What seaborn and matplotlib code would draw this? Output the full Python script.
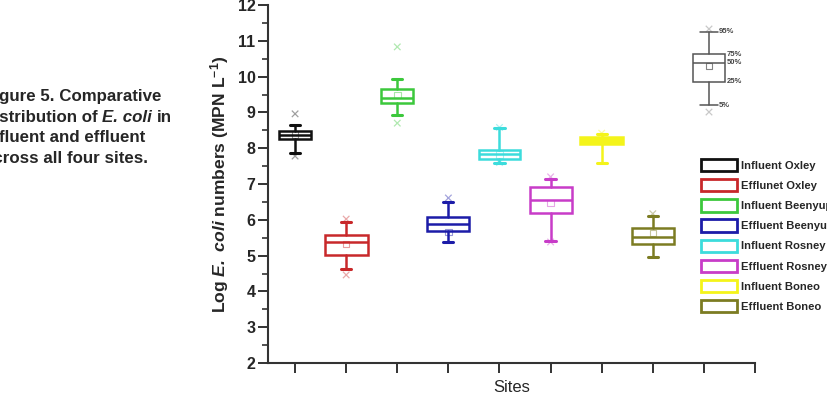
import numpy as np
import pandas as pd
import matplotlib.pyplot as plt
import matplotlib.patches as mpatches
import seaborn as sns

# --- data (log MPN per litre) ---
sites = ['Influent Oxley', 'Efflunet Oxley', 'Influent Beenyup', 'Effluent Beenyup',
         'Influent Rosney', 'Effluent Rosney', 'Influent Boneo', 'Effluent Boneo']
colors = ['#111111', '#c8282a', '#3cc83c', '#1c1ca8', '#3cdcdc', '#c83cc8', '#f4f41a', '#7c7c22']
q1 = [8.27, 5.02, 9.26, 5.69, 7.70, 6.19, 8.11, 5.32]
med = [8.37, 5.38, 9.40, 5.88, 7.84, 6.55, 8.22, 5.52]
q3 = [8.48, 5.58, 9.65, 6.08, 7.95, 6.92, 8.30, 5.77]
whis_lo = [7.87, 4.63, 8.93, 5.38, 7.59, 5.41, 7.59, 4.96]
whis_hi = [8.65, 5.94, 9.93, 6.49, 8.56, 7.14, 8.40, 6.10]
means = [8.38, 5.32, 9.49, 5.66, 7.83, 6.47, 8.20, 5.63]
out_hi = [8.96, 6.02, 10.83, 6.61, 8.58, 7.20, 8.42, 6.17]
out_lo = [7.78, 4.46, 8.70, np.nan, 7.60, 5.38, np.nan, np.nan]

# key box (percentile guide)
key_stats = dict(q1=9.85, med=10.38, q3=10.63, whislo=9.20, whishi=11.25, mean=10.30)
key_out = [11.33, 9.01]
key_labels = ['95%', '75%', '50%', '25%', '5%']

caption = ['Figure 5. Comparative', 'distribution of', 'E. coli', 'in',
           'influent and effluent', 'across all four sites.']

sns.set_style("ticks")
plt.rcParams['font.family'] = ['Liberation Sans', 'DejaVu Sans']
plt.rcParams['mathtext.fontset'] = 'custom'
plt.rcParams['mathtext.rm'] = 'Liberation Sans:bold'
plt.rcParams['mathtext.bf'] = 'Liberation Sans:bold'
plt.rcParams['mathtext.it'] = 'Liberation Sans:bold:italic'
plt.rcParams['mathtext.bfit'] = 'Liberation Sans:bold:italic'

fig = plt.figure(figsize=(8.27, 3.98), dpi=100)
ax = fig.add_axes([268 / 827, 1 - 363 / 398, 487 / 827, 358 / 398])

positions = list(range(1, 9))
widths = [0.63, 0.84, 0.63, 0.82, 0.82, 0.82, 0.84, 0.82]

for i in range(len(sites)):
    st = [dict(q1=q1[i], med=med[i], q3=q3[i], whislo=whis_lo[i], whishi=whis_hi[i],
               mean=means[i], fliers=[])]
    c = colors[i]
    fill = c if sites[i] == 'Influent Boneo' else 'none'
    ax.bxp(st, positions=[positions[i]], widths=widths[i], patch_artist=True,
           showfliers=False, capwidths=0.2,
           boxprops=dict(facecolor=fill, edgecolor=c, linewidth=1.8),
           medianprops=dict(color=c, linewidth=1.8),
           whiskerprops=dict(color=c, linewidth=1.8),
           capprops=dict(color=c, linewidth=2.2))

# key box
kpos = 9.1
ax.bxp([dict(key_stats, fliers=[])], positions=[kpos], widths=0.63, patch_artist=True,
       showfliers=False, capwidths=0.35,
       boxprops=dict(facecolor='none', edgecolor='#555555', linewidth=1.1),
       medianprops=dict(color='#555555', linewidth=1.1),
       whiskerprops=dict(color='#555555', linewidth=1.1),
       capprops=dict(color='#555555', linewidth=1.1))
key_y = [key_stats['whishi'], key_stats['q3'], key_stats['med'], key_stats['q1'], key_stats['whislo']]
key_x = [kpos + 0.2, kpos + 0.34, kpos + 0.34, kpos + 0.34, kpos + 0.2]
for lab, yy, xx in zip(key_labels, key_y, key_x):
    ax.text(xx, yy, lab, fontsize=5.5, fontweight='bold', color='#444444', va='center', ha='left')

# outliers and means
pts = pd.DataFrame({
    'x': positions * 2 + [kpos, kpos],
    'y': out_hi + out_lo + key_out,
    'site': sites * 2 + ['key', 'key'],
}).dropna()
pal = dict(zip(sites, colors))
pal['key'] = '#777777'
sns.scatterplot(data=pts, x='x', y='y', hue='site', palette=pal, marker='x', s=22,
                linewidth=0.9, alpha=0.4, legend=False, ax=ax)
mdf = pd.DataFrame({'x': positions + [kpos], 'y': means + [key_stats['mean']],
                    'site': sites + ['key']})
for _, r in mdf.iterrows():
    sns.scatterplot(x=[r['x']], y=[r['y']], marker='s', s=22, facecolor='none',
                    edgecolor=pal[r['site']], linewidth=0.8,
                    alpha=0.45 if r['site'] != 'key' else 0.9, legend=False, ax=ax)

ax.set_xlim(0.47, 10.0)
ax.set_ylim(2, 12)
ax.set_xticks(range(1, 11))
ax.set_xticklabels([])
ax.set_yticks(range(2, 13))
ax.set_yticks(np.arange(2.5, 12, 1), minor=True)
ax.tick_params(axis='both', which='major', direction='out', length=7, width=1.4, color='#333333')
ax.tick_params(axis='y', which='minor', direction='out', length=4, width=1.2, color='#333333')
ax.tick_params(axis='y', labelsize=11.5, pad=2)
for lab in ax.get_yticklabels():
    lab.set_fontweight('bold')
for sp in ['top', 'right']:
    ax.spines[sp].set_visible(False)
for sp in ['left', 'bottom']:
    ax.spines[sp].set_linewidth(1.5)
    ax.spines[sp].set_color('#333333')

ax.set_xlabel('Sites', fontsize=12, labelpad=2)
ax.set_ylabel(r'Log $\mathbfit{E.\ coli}$ numbers (MPN L$^{\mathbf{-1}}$)', fontsize=12.6,
              fontweight='bold', labelpad=5)

# legend on the right
handles = [mpatches.Patch(facecolor='white', edgecolor=c, linewidth=2) for c in colors]
fig.legend(handles, sites, loc='upper left', bbox_to_anchor=(701 / 827, 1 - 159 / 398),
           frameon=False, borderpad=0, borderaxespad=0,
           handlelength=3.2, handleheight=1.3, handletextpad=0.35, labelspacing=0.7,
           prop=dict(weight='bold', size=8.1))

# caption text at the left (clipped by the figure edge)
cx = -16 / 827
fs = 12.2
fig.text(cx, 1 - 101 / 398, caption[0], fontsize=fs, fontweight='bold', va='baseline')
t2 = fig.text(cx, 1 - 122 / 398, caption[1], fontsize=fs, fontweight='bold', va='baseline')
a3 = ax.annotate(caption[2], xy=(1, 0), xycoords=t2, xytext=(3.4, 0), textcoords='offset points',
                 fontsize=fs, fontweight='bold', style='italic', va='bottom', annotation_clip=False)
ax.annotate(caption[3], xy=(1, 0), xycoords=a3, xytext=(3.4, 0), textcoords='offset points',
            fontsize=fs, fontweight='bold', va='bottom', annotation_clip=False)
fig.text(cx, 1 - 142 / 398, caption[4], fontsize=fs, fontweight='bold', va='baseline')
fig.text(cx, 1 - 163 / 398, caption[5], fontsize=fs, fontweight='bold', va='baseline')

fig.savefig('out.png', dpi=100)
